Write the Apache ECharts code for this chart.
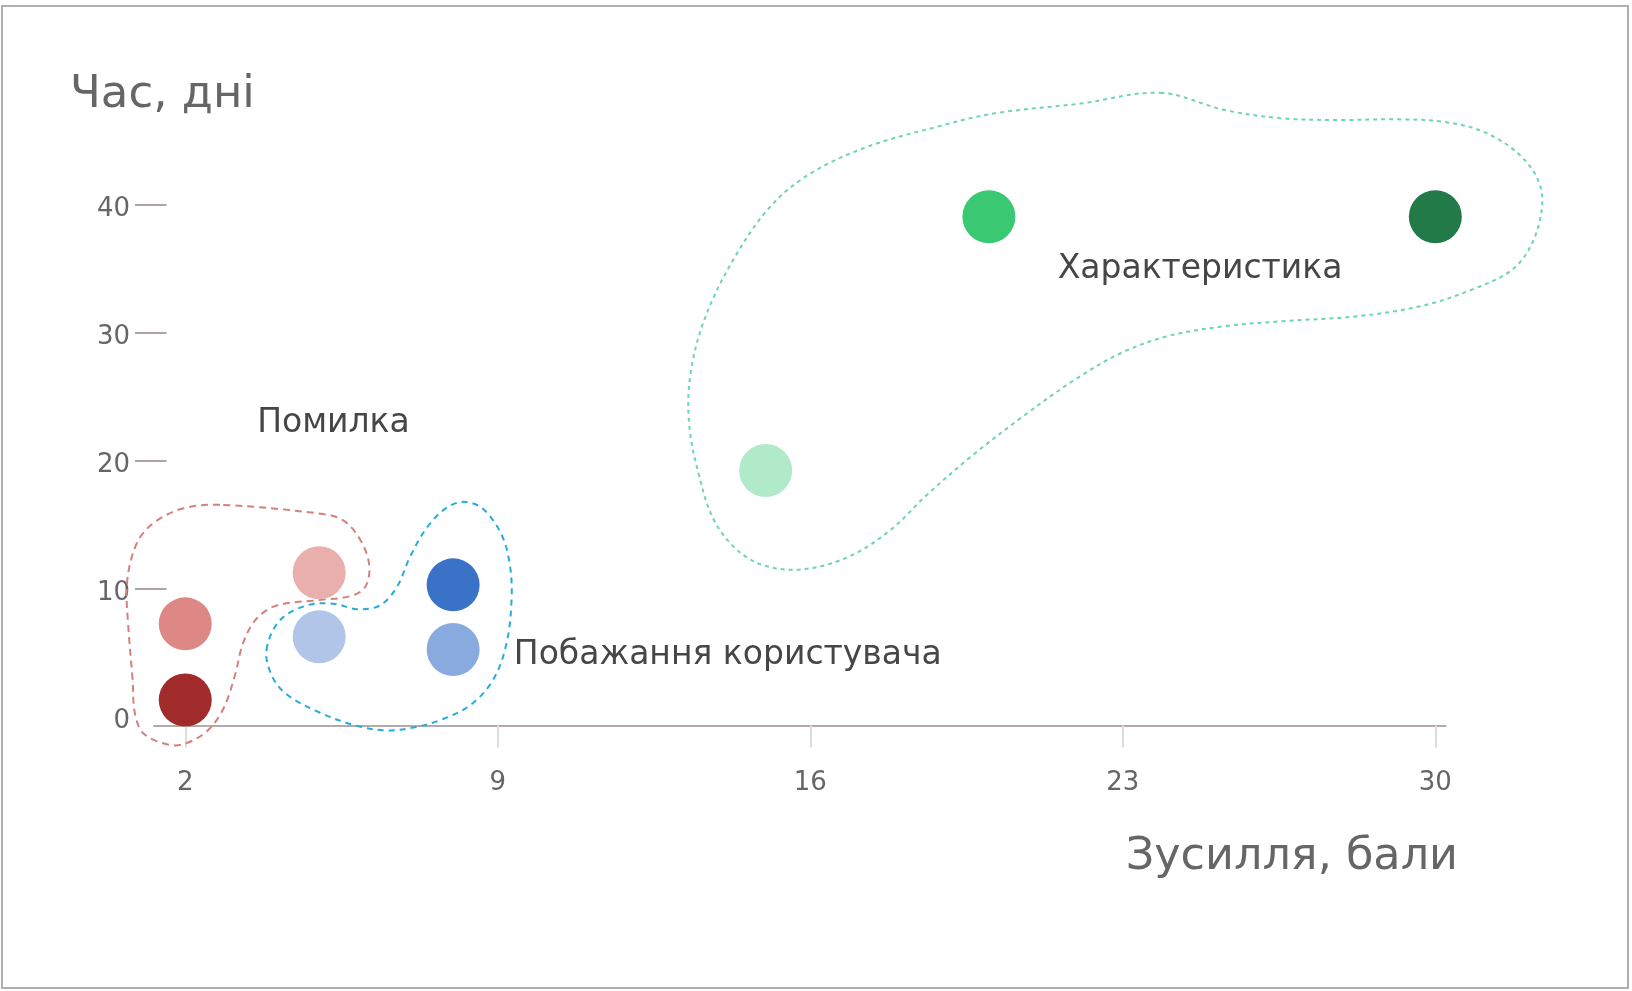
<!DOCTYPE html>
<html>
<head>
<meta charset="utf-8">
<script src="https://cdn.jsdelivr.net/npm/echarts/dist/echarts.min.js"></script>
<style>
  html, body { margin: 0; padding: 0; background: #ffffff; }
  #chart { width: 1632px; height: 991px; }
</style>
</head>
<body>
<div id="chart"></div>
<script>
// ---- data ----
const xTickValues = [2, 9, 16, 23, 30];
const yTickValues = [10, 20, 30, 40];
const yLabelValues = [0, 10, 20, 30, 40];

const xTitle = 'Зусилля, бали';
const yTitle = 'Час, дні';

const groupNames = ['Помилка', 'Побажання користувача', 'Характеристика'];

const errorX = [2, 2, 5];
const errorY = [1.3, 7.25, 11.25];
const errorColors = ['#a12b2b', '#dd8885', '#e8afad'];

const wishX = [5, 8, 8];
const wishY = [6.25, 10.3, 5.25];
const wishColors = ['#b0c5e8', '#3a72c8', '#89aadf'];

const featureX = [15, 20, 30];
const featureY = [19.25, 39.1, 39.1];
const featureColors = ['#b0eac8', '#3ac972', '#217a48'];

// label anchor (left edge, vertical middle) in data units
const labelX = [3.61, 9.36, 21.54];
const labelY = [22.95, 4.8, 34.95];

// hand-traced outline vertices, data units
const errorHullX = [2.85, 5.09, 5.54, 5.91, 6.12, 6.03, 5.69, 5.02, 4.05, 3.60, 3.30, 3.11, 2.85, 2.48, 1.96, 1.58, 1.06, 0.87, 0.82, 0.72, 0.69, 0.80, 1.02, 1.43, 2.03];
const errorHullY = [16.55, 15.84, 15.34, 13.89, 11.87, 10.13, 9.41, 9.12, 8.69, 7.67, 5.79, 3.19, 0.59, -1.16, -2.16, -2.16, -1.30, 0.30, 2.90, 7.24, 10.13, 12.45, 14.18, 15.48, 16.35];

const wishHullX = [3.82, 4.12, 4.72, 5.32, 5.84, 6.36, 6.74, 7.03, 7.41, 7.86, 8.27, 8.68, 9.09, 9.27, 9.31, 9.20, 8.90, 8.38, 7.71, 7.11, 6.51, 5.84, 5.02, 4.27, 3.94];
const wishHullY = [5.21, 7.53, 8.69, 8.83, 8.40, 8.69, 10.13, 12.45, 14.77, 16.35, 16.79, 16.21, 14.18, 11.87, 9.27, 5.79, 2.90, 0.88, -0.28, -0.86, -1.09, -0.72, 0.30, 1.74, 3.19];

const featureHullX = [23.84, 25.28, 26.57, 27.86, 29.15, 30.18, 31.08, 31.85, 32.30, 32.39, 32.17, 31.72, 30.82, 29.66, 28.25, 26.57, 25.28, 24.00, 22.97, 21.94, 20.78, 19.62, 18.59, 17.82, 16.91, 15.89, 14.98, 14.34, 13.83, 13.51, 13.29, 13.31, 13.63, 14.28, 15.11, 16.01, 17.30, 18.85, 20.13, 22.06];
const featureHullY = [48.79, 47.44, 46.79, 46.66, 46.71, 46.52, 45.74, 44.05, 41.98, 39.89, 37.04, 34.95, 33.39, 32.09, 31.31, 30.92, 30.53, 29.75, 28.45, 26.38, 23.52, 20.39, 17.27, 14.66, 12.58, 11.54, 11.80, 13.10, 15.45, 18.83, 22.73, 26.64, 31.07, 35.76, 39.91, 42.49, 44.59, 46.14, 47.18, 47.95];

// ---- build ----
const hulls = [
  { xs: errorHullX, ys: errorHullY, color: '#d4807d', dash: [7, 5] },
  { xs: wishHullX, ys: wishHullY, color: '#26acd9', dash: [6, 5] },
  { xs: featureHullX, ys: featureHullY, color: '#70d5ab', dash: [4, 4] }
];

function pointData(xs, ys, colors) {
  return xs.map((x, i) => ({ value: [x, ys[i]], itemStyle: { color: colors[i], opacity: 1 } }));
}

const font = 'DejaVu Sans';
const chart = echarts.init(document.getElementById('chart'), null, { renderer: 'canvas' });

chart.setOption({
  animation: false,
  backgroundColor: '#ffffff',
  textStyle: { fontFamily: font },
  grid: { left: 154, right: 186.4, top: 77.3, bottom: 265.5, containLabel: false },
  xAxis: {
    type: 'value',
    min: 1.3,
    max: 30.23,
    axisLine: { show: true, onZero: false, lineStyle: { color: '#b5a9a9', width: 2 } },
    axisTick: { show: true, customValues: xTickValues, length: 22, lineStyle: { color: '#dddddd', width: 2 } },
    axisLabel: { show: true, customValues: xTickValues, margin: 45, fontSize: 26, color: '#666666', fontFamily: font },
    splitLine: { show: false }
  },
  yAxis: {
    type: 'value',
    min: -0.7,
    max: 50,
    offset: -12.5,
    axisLine: { show: false },
    axisTick: { show: true, customValues: yTickValues, length: 31.5, lineStyle: { color: '#ada5a5', width: 2 } },
    axisLabel: { show: true, customValues: yLabelValues, margin: 36.5, fontSize: 26, color: '#666666', fontFamily: font, verticalAlign: 'top', lineHeight: 8.5 },
    splitLine: { show: false }
  },
  graphic: [
    { type: 'rect', shape: { x: 2, y: 6, width: 1626, height: 982 }, style: { fill: 'none', stroke: '#b3adad', lineWidth: 2 }, silent: true, z: 0 },
    { type: 'text', left: 70, top: 72.5, style: { text: yTitle, font: '45px "DejaVu Sans"', fill: '#666666' } },
    { type: 'text', right: 1632 - 1458, top: 834.5, style: { text: xTitle, font: '44.5px "DejaVu Sans"', fill: '#666666' } }
  ],
  series: [
    {
      type: 'custom',
      coordinateSystem: 'cartesian2d',
      clip: false,
      silent: true,
      z: 1,
      data: hulls.map((h, i) => [h.xs[0], h.ys[0], i]),
      renderItem: function (params, api) {
        const h = hulls[params.dataIndex];
        const pts = h.xs.map((x, i) => api.coord([x, h.ys[i]]));
        return {
          type: 'polygon',
          shape: { points: pts, smooth: 0.35 },
          style: { fill: null, stroke: h.color, lineWidth: 2, lineDash: h.dash }
        };
      }
    },
    {
      type: 'scatter',
      symbolSize: 53,
      z: 3,
      itemStyle: { opacity: 1 },
      data: [].concat(
        pointData(errorX, errorY, errorColors),
        pointData(wishX, wishY, wishColors),
        pointData(featureX, featureY, featureColors)
      )
    },
    {
      type: 'scatter',
      symbolSize: 0,
      z: 4,
      silent: true,
      itemStyle: { opacity: 1 },
      data: groupNames.map((n, i) => ({ value: [labelX[i], labelY[i]], name: n })),
      label: {
        show: true,
        position: 'right',
        distance: 0,
        formatter: p => p.name,
        fontSize: 33,
        color: '#464646',
        opacity: 1,
        fontFamily: font
      }
    }
  ]
});
</script>
</body>
</html>
